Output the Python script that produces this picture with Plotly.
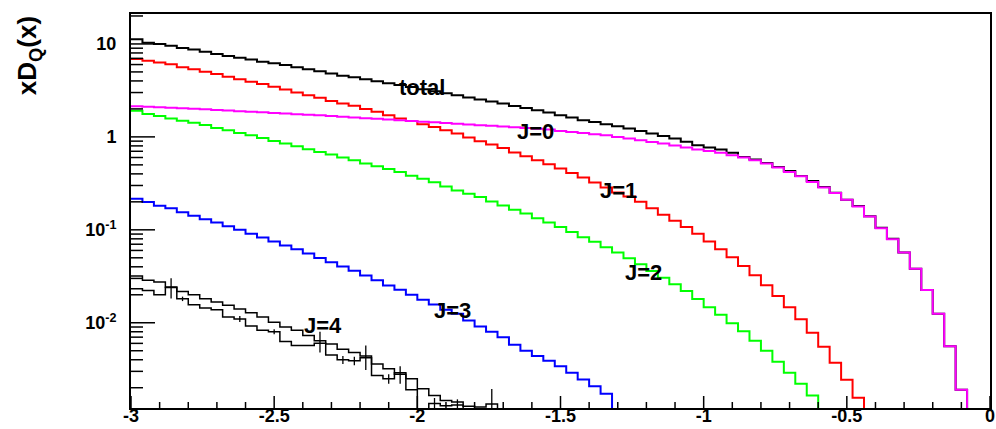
import numpy as np
import plotly.graph_objects as go

# ---------------- data ----------------
x_low, x_high, n_bins = -3.0, 0.0, 75

total = [11.2, 10.3, 9.97, 9.56, 9.04, 8.74, 8.24, 7.78, 7.41, 7.10,
         6.82, 6.43, 6.18, 5.93, 5.60, 5.33, 5.07, 4.82, 4.55, 4.37,
         4.16, 3.97, 3.78, 3.61, 3.44, 3.25, 3.10, 2.95, 2.80, 2.66,
         2.52, 2.40, 2.28, 2.15, 2.04, 1.93, 1.83, 1.71, 1.62, 1.51,
         1.45, 1.37, 1.30, 1.23, 1.16, 1.09, 1.02, 0.962, 0.884, 0.814,
         0.769, 0.731, 0.673, 0.609, 0.571, 0.525, 0.475, 0.430, 0.380, 0.336,
         0.289, 0.251, 0.211, 0.180, 0.140, 0.105, 0.080, 0.057, 0.038, 0.0225,
         0.0125, 0.0056, 0.0019, 0, 0]

j0 = [2.142, 2.115, 2.089, 2.063, 2.033, 2.008, 1.978, 1.950, 1.921, 1.892,
      1.865, 1.837, 1.810, 1.783, 1.757, 1.730, 1.705, 1.675, 1.646, 1.619,
      1.591, 1.563, 1.536, 1.510, 1.483, 1.458, 1.433, 1.408, 1.384, 1.360,
      1.337, 1.314, 1.291, 1.269, 1.247, 1.223, 1.199, 1.16, 1.13, 1.10,
      1.07, 1.04, 1.00, 0.96, 0.92, 0.88, 0.85, 0.81, 0.77, 0.73,
      0.706, 0.673, 0.635, 0.600, 0.561, 0.516, 0.468, 0.420, 0.377, 0.327,
      0.285, 0.249, 0.210, 0.178, 0.139, 0.104, 0.0794, 0.0569, 0.038, 0.0225,
      0.0125, 0.0056, 0.0019, 0, 0]

j1 = [6.87, 6.59, 6.33, 6.03, 5.60, 5.33, 5.01, 4.74, 4.43, 4.16,
      3.92, 3.70, 3.46, 3.24, 3.01, 2.81, 2.63, 2.44, 2.29, 2.16,
      1.99, 1.86, 1.71, 1.58, 1.48, 1.37, 1.28, 1.18, 1.09, 0.986,
      0.900, 0.828, 0.761, 0.68, 0.62, 0.561, 0.508, 0.456, 0.409, 0.365,
      0.323, 0.285, 0.252, 0.228, 0.200, 0.171, 0.145, 0.125, 0.107, 0.0906,
      0.0748, 0.0619, 0.0508, 0.0409, 0.0325, 0.0254, 0.0194, 0.0147, 0.0109, 0.00783,
      0.00553, 0.00372, 0.00243, 0.00156, 0, 0, 0, 0, 0, 0,
      0, 0, 0, 0, 0]

j2 = [1.91, 1.76, 1.68, 1.58, 1.49, 1.42, 1.34, 1.25, 1.18, 1.10,
      1.04, 0.975, 0.905, 0.849, 0.794, 0.737, 0.689, 0.645, 0.600, 0.561,
      0.516, 0.483, 0.451, 0.419, 0.382, 0.355, 0.324, 0.293, 0.265, 0.244,
      0.225, 0.202, 0.183, 0.164, 0.150, 0.133, 0.120, 0.107, 0.0945, 0.0834,
      0.0745, 0.065, 0.0569, 0.0495, 0.0425, 0.0360, 0.0305, 0.0259, 0.0219, 0.0180,
      0.0147, 0.0122, 0.0099, 0.0081, 0.0064, 0.0050, 0.0038, 0.0029, 0.0022, 0.00165,
      0, 0, 0, 0, 0, 0, 0, 0, 0, 0,
      0, 0, 0, 0, 0]

j3 = [0.216, 0.199, 0.182, 0.171, 0.155, 0.142, 0.130, 0.120, 0.109, 0.100,
      0.0906, 0.0826, 0.0748, 0.0678, 0.0619, 0.0555, 0.0497, 0.0447, 0.0404, 0.0363,
      0.0323, 0.0286, 0.0252, 0.0227, 0.0200, 0.0177, 0.0157, 0.0138, 0.0125, 0.0106,
      0.0091, 0.0080, 0.0070, 0.0058, 0.0050, 0.0044, 0.0039, 0.0034, 0.0029, 0.00245,
      0.00207, 0.00172, 0, 0, 0, 0, 0, 0, 0, 0,
      0, 0, 0, 0, 0, 0, 0, 0, 0, 0,
      0, 0, 0, 0, 0, 0, 0, 0, 0, 0,
      0, 0, 0, 0, 0]

j4_a = [0.0318, 0.0286, 0.0274, 0.0242, 0.0217, 0.0200, 0.0181, 0.0167, 0.0154, 0.0141,
        0.0128, 0.0115, 0.0101, 0.0090, 0.0083, 0.0073, 0.0064, 0.0059, 0.0052, 0.0048,
        0.0044, 0.0036, 0.0032, 0.0028, 0.0025, 0.00195, 0.00165, 0.00146, 0.0014, 0.00126,
        0.00124, 0.00134, 0, 0, 0, 0, 0, 0, 0, 0,
        0, 0, 0, 0, 0, 0, 0, 0, 0, 0,
        0, 0, 0, 0, 0, 0, 0, 0, 0, 0,
        0, 0, 0, 0, 0, 0, 0, 0, 0, 0,
        0, 0, 0, 0, 0]

j4_b = [0.0232, 0.0223, 0.0200, 0.0240, 0.0181, 0.0156, 0.0144, 0.0138, 0.0115, 0.0110,
        0.0092, 0.0083, 0.0080, 0.0063, 0.0057, 0.0057, 0.0060, 0.0045, 0.0040, 0.0039,
        0.0042, 0.0027, 0.0025, 0.0029, 0.0019, 0, 0.00135, 0.00128, 0.0013, 0,
        0, 0, 0, 0, 0, 0, 0, 0, 0, 0,
        0, 0, 0, 0, 0, 0, 0, 0, 0, 0,
        0, 0, 0, 0, 0, 0, 0, 0, 0, 0,
        0, 0, 0, 0, 0, 0, 0, 0, 0, 0,
        0, 0, 0, 0, 0]

# error bars drawn on the J=4 histograms (bin index, error)
j4_a_err_bins = [3, 16, 20, 23, 31]
j4_a_err = [0.006, 0.0016, 0.0013, 0.0006, 0.0006]
j4_b_err_bins = [4, 9, 12, 18, 19, 22, 26, 28]
j4_b_err = [0.001, 0.0008, 0.0005, 0.0004, 0.0004, 0.0003, 0.0002, 0.0002]

labels = ["total", "J=0", "J=1", "J=2", "J=3", "J=4"]
label_x = [-1.982, -1.586, -1.297, -1.210, -1.878, -2.331]
label_y = [3.43, 1.14, 0.267, 0.0351, 0.0136, 0.00935]

x_tick_vals = [-3, -2.5, -2, -1.5, -1, -0.5, 0]
x_tick_text = ["-3", "-2.5", "-2", "-1.5", "-1", "-0.5", "0"]
y_tick_vals = [0.01, 0.1, 1, 10]
y_tick_text = ["10<sup>-2</sup>", "10<sup>-1</sup>", "1", "10"]

y_min, y_max = 0.00121, 21.0

# ---------------- figure ----------------
W, H = 996, 429
ML, MR, MT, MB = 131, 6, 14, 21
plot_w, plot_h = W - ML - MR, H - MT - MB

edges = np.linspace(x_low, x_high, n_bins + 1)
centers = 0.5 * (edges[:-1] + edges[1:])
FLOOR = 1e-6  # empty bins: draw below the visible range
ly0, ly1 = np.log10(y_min), np.log10(y_max)


def step_xy(vals):
    v = [val if val > 0 else FLOOR for val in vals]
    return list(edges), v + [v[-1]]


fig = go.Figure()

series = [
    (j4_a, "black", 1.5),
    (j4_b, "black", 1.5),
    (j3, "#0000ff", 2),
    (j2, "#00ff00", 2),
    (j1, "#ff0000", 2),
    (total, "black", 2),
    (j0, "#ff00ff", 2),
]
for vals, col, w in series:
    xs, ys = step_xy(vals)
    fig.add_trace(go.Scatter(x=xs, y=ys, mode="lines", line_shape="hv",
                             line=dict(color=col, width=w), hoverinfo="skip",
                             showlegend=False))

for vals, bins, errs in [(j4_a, j4_a_err_bins, j4_a_err),
                         (j4_b, j4_b_err_bins, j4_b_err)]:
    fig.add_trace(go.Scatter(
        x=[centers[b] for b in bins], y=[vals[b] for b in bins],
        mode="markers", marker=dict(size=1, color="black"),
        error_y=dict(type="data", array=errs, visible=True, width=0,
                     thickness=1.3, color="black"),
        hoverinfo="skip", showlegend=False))


# ---- inside ticks drawn as one line trace (lengths given in pixels) ----
def x_tick_top(pix):
    return 10 ** (ly0 + pix / plot_h * (ly1 - ly0))


def y_tick_right(pix):
    return x_low + pix / plot_w * (x_high - x_low)


x_minor = [round(v, 2) for v in np.arange(-3.0, 0.001, 0.1)
           if all(abs(v - m) > 1e-6 for m in x_tick_vals)]
minor_y = [k * 10.0 ** d for d in range(-3, 2) for k in range(2, 10)
           if y_min <= k * 10.0 ** d <= y_max]

tx, ty = [], []
for xv in x_tick_vals:
    tx += [xv, xv, None]
    ty += [y_min, x_tick_top(12), None]
for xv in x_minor:
    tx += [xv, xv, None]
    ty += [y_min, x_tick_top(6), None]
for yv in y_tick_vals:
    tx += [x_low, y_tick_right(24), None]
    ty += [yv, yv, None]
for yv in minor_y:
    tx += [x_low, y_tick_right(12), None]
    ty += [yv, yv, None]
fig.add_trace(go.Scatter(x=tx, y=ty, mode="lines", connectgaps=False,
                         line=dict(color="black", width=1.5),
                         hoverinfo="skip", showlegend=False))

lab_font = dict(family="Liberation Sans, Arial, sans-serif", size=22,
                color="black", weight="bold")
for t, lx, lyv in zip(labels, label_x, label_y):
    fig.add_annotation(x=lx, y=np.log10(lyv), xref="x", yref="y", text=t,
                       showarrow=False, font=lab_font,
                       xanchor="center", yanchor="middle")

fig.add_annotation(x=-0.119, y=0.895, xref="paper", yref="paper",
                   text="xD<sub>Q</sub>(x)", textangle=-90, showarrow=False,
                   font=dict(family="Liberation Sans, Arial, sans-serif",
                             size=26, color="black", weight="bold"),
                   xanchor="center", yanchor="middle")

tick_font = dict(family="Liberation Sans, Arial, sans-serif", size=18,
                 color="black", weight="bold")

fig.update_layout(
    width=W, height=H,
    margin=dict(l=ML, r=MR, t=MT, b=MB, autoexpand=False),
    paper_bgcolor="white", plot_bgcolor="white",
    xaxis=dict(range=[x_low, x_high], showgrid=False, zeroline=False,
               automargin=False, ticklabeloverflow="allow",
               showline=True, linecolor="black", linewidth=2, mirror=True,
               ticks="", ticklen=0,
               tickmode="array", tickvals=x_tick_vals, ticktext=x_tick_text,
               tickfont=tick_font, ticklabelstandoff=-10),
    yaxis=dict(type="log", range=[ly0, ly1], automargin=False,
               ticklabeloverflow="allow",
               showgrid=False, zeroline=False,
               showline=True, linecolor="black", linewidth=2, mirror=True,
               ticks="", ticklen=0,
               tickmode="array", tickvals=y_tick_vals, ticktext=y_tick_text,
               tickfont=tick_font, ticklabelstandoff=9),
)

fig.write_html("out.html")
